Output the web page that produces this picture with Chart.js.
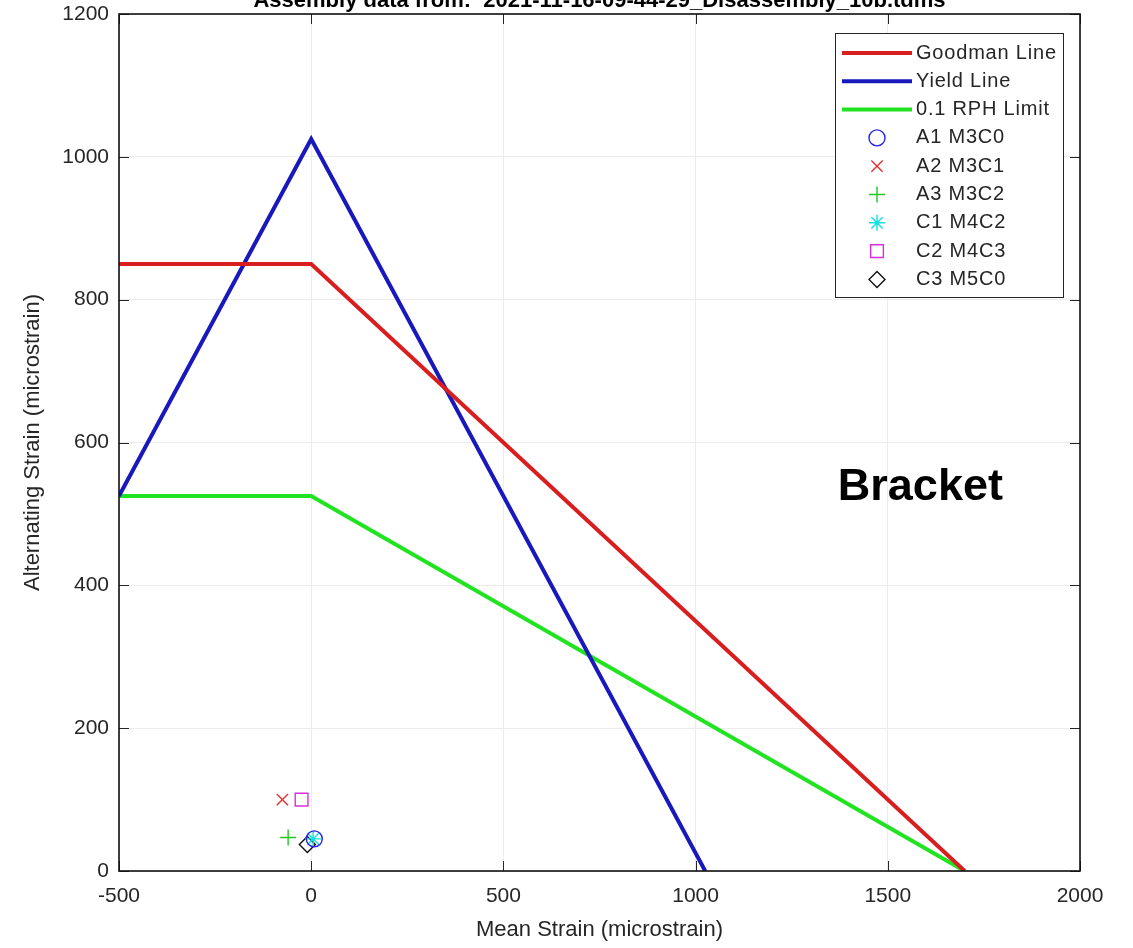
<!DOCTYPE html>
<html>
<head>
<meta charset="utf-8">
<script src="https://cdn.jsdelivr.net/npm/chart.js@4.4.1/dist/chart.umd.min.js"></script>
<style>
    html, body { margin: 0; padding: 0; background: #ffffff; }
    canvas { display: block; }
</style>
</head>
<body>
<canvas id="goodmanChart" width="1133" height="948"></canvas>
<script>
// Datos (microstrain)
const goodmanX = [-500, 0, 1700];
const goodmanY = [850, 850, 0];
const yieldX = [-500, 0, 1025];
const yieldY = [525, 1025, 0];
const rphX = [-500, 0, 1700];
const rphY = [525, 525, 0];

const puntosNombres = ['A1 M3C0', 'A2 M3C1', 'A3 M3C2', 'C1 M4C2', 'C2 M4C3', 'C3 M5C0'];
const puntosX = [8, -75, -60, 5, -25, -10];
const puntosY = [45, 100, 47, 45, 100, 37];

const xTicks = [-500, 0, 500, 1000, 1500, 2000];
const yTicks = [0, 200, 400, 600, 800, 1000, 1200];

const TITULO = 'Assembly data from:  2021-11-16-09-44-29_Disassembly_10b.tdms';
const ANOTACION = 'Bracket';
const ANOTACION_X = 1370;
const ANOTACION_Y = 520;

const FUENTE = '"Liberation Sans", Arial, Helvetica, sans-serif';

const ESTILOS_PUNTOS = [
    { style: 'circle', color: '#2424e6', radius: 8 },
    { style: 'crossRot', color: '#e03232', radius: 8 },
    { style: 'cross', color: '#22c822', radius: 8 },
    { style: 'star', color: '#10e0e0', radius: 8 },
    { style: 'rect', color: '#d830d8', radius: 9 },
    { style: 'rectRot', color: '#111111', radius: 8 }
];

function serie(xs, ys) {
    return xs.map((x, i) => ({ x: x, y: ys[i] }));
}

function lineaDataset(label, xs, ys, color) {
    return {
        label: label,
        data: serie(xs, ys),
        showLine: true,
        borderColor: color,
        backgroundColor: color,
        borderWidth: 4,
        pointRadius: 0,
        pointHoverRadius: 0,
        order: 1
    };
}

const datasets = [
    lineaDataset('Goodman Line', goodmanX, goodmanY, '#d81e1e'),
    lineaDataset('Yield Line', yieldX, yieldY, '#1818bc'),
    lineaDataset('0.1 RPH Limit', rphX, rphY, '#22e322')
];

puntosNombres.forEach((nombre, i) => {
    const est = ESTILOS_PUNTOS[i];
    datasets.push({
        label: nombre,
        data: [{ x: puntosX[i], y: puntosY[i] }],
        showLine: false,
        pointStyle: est.style,
        pointRadius: est.radius,
        pointHoverRadius: est.radius,
        borderColor: est.color,
        backgroundColor: 'rgba(0,0,0,0)',
        borderWidth: 1.4,
        order: 0
    });
});

// Marco, marcas interiores, titulo, anotacion y leyenda al estilo MATLAB
const marcoMatlab = {
    id: 'marcoMatlab',
    afterDatasetsDraw(chart) {
        const { ctx, chartArea: a, scales } = chart;
        ctx.save();

        // marcas hacia dentro en los cuatro lados
        ctx.strokeStyle = '#262626';
        ctx.lineWidth = 1;
        ctx.beginPath();
        scales.x.ticks.forEach(t => {
            const px = Math.round(scales.x.getPixelForValue(t.value)) + 0.5;
            ctx.moveTo(px, a.bottom); ctx.lineTo(px, a.bottom - 10);
            ctx.moveTo(px, a.top); ctx.lineTo(px, a.top + 10);
        });
        scales.y.ticks.forEach(t => {
            const py = Math.round(scales.y.getPixelForValue(t.value)) + 0.5;
            ctx.moveTo(a.left, py); ctx.lineTo(a.left + 10, py);
            ctx.moveTo(a.right, py); ctx.lineTo(a.right - 10, py);
        });
        ctx.stroke();

        // caja
        ctx.strokeStyle = '#111111';
        ctx.lineWidth = 1.6;
        ctx.strokeRect(a.left, a.top, a.right - a.left, a.bottom - a.top);

        // anotacion
        ctx.font = 'bold 45px ' + FUENTE;
        ctx.fillStyle = '#000000';
        ctx.textAlign = 'left';
        ctx.textBaseline = 'alphabetic';
        ctx.fillText(ANOTACION, scales.x.getPixelForValue(ANOTACION_X), scales.y.getPixelForValue(ANOTACION_Y));

        // leyenda
        const box = { x: a.right - 245, y: a.top + 19, w: 228, h: 264 };
        ctx.fillStyle = '#ffffff';
        ctx.fillRect(box.x, box.y, box.w, box.h);
        ctx.strokeStyle = '#262626';
        ctx.lineWidth = 1;
        ctx.strokeRect(box.x + 0.5, box.y + 0.5, box.w, box.h);

        ctx.font = '20px ' + FUENTE;
        ctx.textBaseline = 'middle';
        chart.data.datasets.forEach((ds, i) => {
            const yy = box.y + 20 + i * 28.3;
            if (ds.showLine) {
                ctx.strokeStyle = ds.borderColor;
                ctx.lineWidth = ds.borderWidth;
                ctx.beginPath();
                ctx.moveTo(box.x + 7, yy);
                ctx.lineTo(box.x + 77, yy);
                ctx.stroke();
            } else if (Chart.helpers && Chart.helpers.drawPoint) {
                ctx.strokeStyle = ds.borderColor;
                ctx.fillStyle = 'rgba(0,0,0,0)';
                ctx.lineWidth = ds.borderWidth;
                Chart.helpers.drawPoint(ctx, {
                    pointStyle: ds.pointStyle,
                    radius: ds.pointRadius,
                    borderWidth: ds.borderWidth,
                    rotation: 0
                }, box.x + 42, yy);
            }
            ctx.fillStyle = '#262626';
            try { ctx.letterSpacing = '0.8px'; } catch (e) {}
            ctx.fillText(ds.label, box.x + 81, yy);
            try { ctx.letterSpacing = '0px'; } catch (e) {}
        });

        ctx.restore();
    },
    afterDraw(chart) {
        const { ctx, chartArea: a } = chart;
        ctx.save();
        ctx.font = 'bold 22px ' + FUENTE;
        ctx.fillStyle = '#000000';
        ctx.textAlign = 'center';
        ctx.textBaseline = 'alphabetic';
        ctx.fillText(TITULO, (a.left + a.right) / 2, 7);
        ctx.restore();
    }
};

const sinSeparador = value => String(value);

new Chart(document.getElementById('goodmanChart').getContext('2d'), {
    type: 'scatter',
    data: { datasets: datasets },
    options: {
        responsive: false,
        animation: false,
        layout: { padding: { left: 0, top: 14, right: 53, bottom: 0 } },
        plugins: {
            legend: { display: false },
            tooltip: { enabled: false },
            title: { display: false }
        },
        scales: {
            x: {
                type: 'linear',
                min: xTicks[0],
                max: xTicks[xTicks.length - 1],
                afterBuildTicks: scale => { scale.ticks = xTicks.map(v => ({ value: v })); },
                afterFit: scale => {
                    scale.height = 77;
                    scale.paddingLeft = 0;
                    scale.paddingRight = 0;
                },
                grid: { color: '#ececec', lineWidth: 1, drawTicks: false },
                border: { display: false },
                ticks: {
                    autoSkip: false,
                    maxRotation: 0,
                    padding: 13,
                    color: '#262626',
                    font: { family: FUENTE, size: 21 },
                    callback: sinSeparador
                },
                title: {
                    display: true,
                    text: 'Mean Strain (microstrain)',
                    color: '#262626',
                    font: { family: FUENTE, size: 22 },
                    padding: { top: 0, bottom: 5 }
                }
            },
            y: {
                type: 'linear',
                min: yTicks[0],
                max: yTicks[yTicks.length - 1],
                afterBuildTicks: scale => { scale.ticks = yTicks.map(v => ({ value: v })); },
                afterFit: scale => {
                    scale.width = 119;
                    scale.paddingTop = 0;
                    scale.paddingBottom = 0;
                },
                grid: { color: '#ececec', lineWidth: 1, drawTicks: false },
                border: { display: false },
                ticks: {
                    autoSkip: false,
                    padding: 10,
                    color: '#262626',
                    font: { family: FUENTE, size: 21 },
                    callback: sinSeparador
                },
                title: {
                    display: true,
                    text: 'Alternating Strain (microstrain)',
                    color: '#262626',
                    font: { family: FUENTE, size: 22 },
                    padding: { top: 20, bottom: 0 }
                }
            }
        }
    },
    plugins: [marcoMatlab]
});
</script>
</body>
</html>
